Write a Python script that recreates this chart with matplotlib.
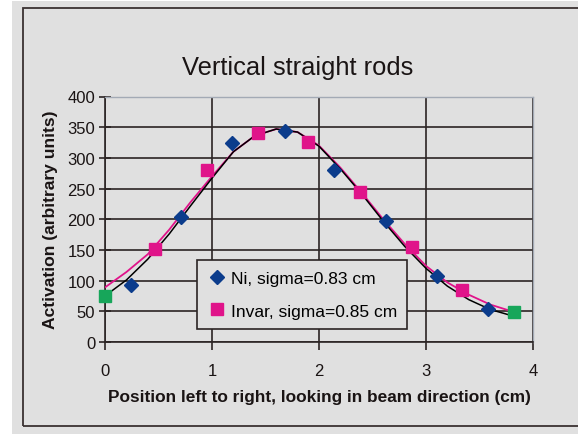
import matplotlib.pyplot as plt
from matplotlib.patches import Rectangle

plt.rcParams['font.family'] = ['Liberation Sans', 'DejaVu Sans']

# measured points
ni_x = [0.24, 0.71, 1.19, 1.68, 2.14, 2.63, 3.10, 3.58]
ni_y = [93, 203, 324, 343, 280, 197, 107, 54]

invar_x = [0.47, 0.95, 1.43, 1.90, 2.38, 2.87, 3.34]
invar_y = [151, 280, 340, 326, 244, 155, 84]

end_x = [0.0, 3.82]
end_y = [75, 49]

# fitted curves
curve_x = [0.0, 0.2, 0.4, 0.6, 0.8, 1.0, 1.2, 1.4, 1.6, 1.8,
           2.0, 2.2, 2.4, 2.6, 2.8, 3.0, 3.2, 3.4, 3.6, 3.82]
ni_fit = [75, 101, 135, 176, 222, 267, 310, 336, 347, 342,
          319, 282, 241, 197, 156, 120, 91, 69, 53, 42]
invar_fit = [89, 114, 143, 183, 228, 270, 310, 336, 347, 342,
             320, 284, 243, 200, 160, 124, 97, 77, 61, 49]

bg = '#e0e0e0'
dark = '#2b2424'
txt = '#1a1414'
blue = '#0b3c8c'
pink = '#e0148a'
green = '#17a65a'

fig = plt.figure(figsize=(5.78, 4.35), dpi=100)
fig.patch.set_facecolor('white')
fig.patches.append(Rectangle((12 / 578, 0), 1, 433 / 435, transform=fig.transFigure,
                             facecolor=bg, edgecolor='none', zorder=-2))
fig.patches.append(Rectangle((23 / 578, 8 / 435), 1, 418 / 435, transform=fig.transFigure,
                             facecolor='none', edgecolor='#3a3232', lw=1.3, zorder=-1))

ax = fig.add_axes([105 / 578, 1 - 343 / 435, 428 / 578, 245.5 / 435])
ax.set_facecolor(bg)

ax.plot(curve_x, invar_fit, color=pink, lw=1.3, zorder=3)
ax.plot(curve_x, ni_fit, color='black', lw=1.1, zorder=3)
ax.plot(ni_x, ni_y, 'D', color=blue, ms=7, ls='none', zorder=4,
        label='Ni, sigma=0.83 cm')
ax.plot(invar_x, invar_y, 's', color=pink, ms=8, ls='none', zorder=4,
        label='Invar, sigma=0.85 cm')
ax.plot(end_x, end_y, 's', color=green, ms=8, ls='none', zorder=5, clip_on=False)

ax.set_xlim(0, 4)
ax.set_ylim(0, 400)
ax.set_xticks([0, 1, 2, 3, 4])
ax.set_yticks(range(0, 401, 50))
ax.grid(True, color=dark, lw=1.2)
ax.set_axisbelow(True)

for s in ['left', 'bottom']:
    ax.spines[s].set_color(dark)
    ax.spines[s].set_linewidth(1.2)
for s in ['top', 'right']:
    ax.spines[s].set_color('#a3aab5')
    ax.spines[s].set_linewidth(1.0)

ax.tick_params(axis='x', direction='out', length=6, width=1.2, color=dark,
               labelsize=12, pad=9, labelcolor=txt)
ax.tick_params(axis='y', direction='inout', length=8, width=1.2, color=dark,
               labelsize=12, pad=3, labelcolor=txt)

ax.set_xlabel('Position left to right, looking in beam direction (cm)',
              fontsize=12.4, fontweight='bold', color=txt, labelpad=8)
ax.set_ylabel('Activation (arbitrary units)', fontsize=12.6,
              fontweight='bold', color=txt, labelpad=7)

fig.text(298 / 578, 1 - 68 / 435, 'Vertical straight rods', ha='center',
         va='center', fontsize=18.4, color=txt)

leg = ax.legend(loc='lower left', bbox_to_anchor=(0.215, 0.053, 0.49, 0.282),
                mode='expand', borderaxespad=0, fancybox=False, facecolor=bg,
                edgecolor=dark, framealpha=1, fontsize=12.5, handletextpad=0.25,
                handlelength=1.1, labelspacing=1.0, borderpad=0.6)
leg.get_frame().set_linewidth(1.2)

fig.savefig('out.png', dpi=100, facecolor=fig.get_facecolor())
